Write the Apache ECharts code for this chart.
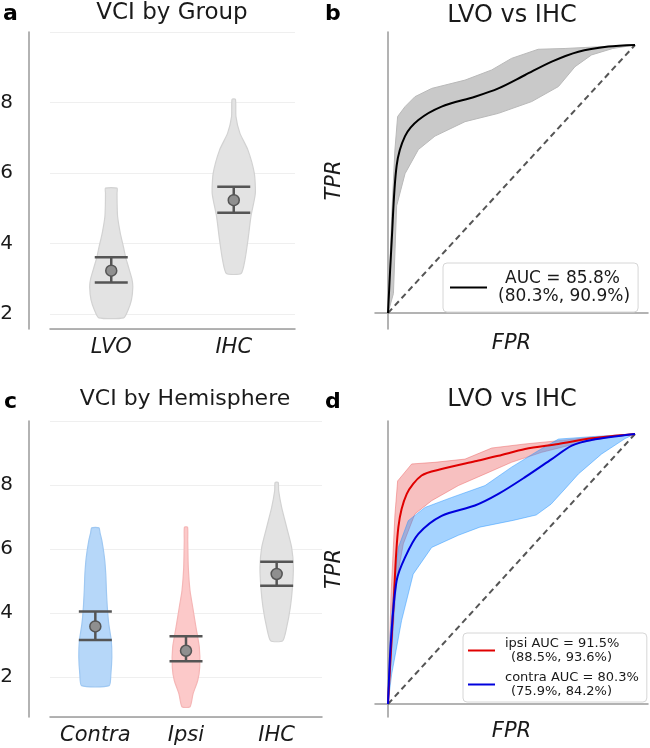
<!DOCTYPE html>
<html><head><meta charset="utf-8">
<script src="https://cdn.jsdelivr.net/npm/echarts@6/dist/echarts.min.js"></script>
<style>html,body{margin:0;padding:0;background:#fff}#c{width:650px;height:748px}</style>
</head><body><div id="c"></div>
<script>
// ---------- data ----------
const catsA = ['LVO', 'IHC'];
const catsC = ['Contra', 'Ipsi', 'IHC'];
const titles = ['VCI by Group', 'LVO vs IHC', 'VCI by Hemisphere', 'LVO vs IHC'];
const letters = ['a', 'b', 'c', 'd'];

// violin profiles: [VCI value, half-width in category units]
const violinA_LVO = [[1.89,0.102],[2.1,0.136],[2.4,0.165],[2.77,0.176],[3.0,0.168],[3.34,0.140],[3.6,0.118],[3.91,0.099],[4.29,0.074],[4.76,0.052],[5.1,0.048],[5.43,0.047],[5.57,0.047]];
const violinA_IHC = [[3.15,0.060],[3.53,0.091],[4.1,0.116],[4.76,0.140],[5.42,0.176],[5.99,0.168],[6.65,0.116],[7.13,0.050],[7.6,0.018],[8.09,0.014]];
const violinC_Contra = [[1.73,0.152],[2.09,0.171],[2.62,0.182],[3.13,0.176],[3.66,0.148],[4.18,0.132],[4.7,0.122],[5.22,0.115],[5.74,0.100],[6.26,0.072],[6.5,0.052],[6.66,0.040]];
const violinC_Ipsi = [[1.07,0.044],[1.47,0.077],[1.89,0.129],[2.3,0.151],[2.93,0.147],[3.55,0.110],[4.18,0.074],[4.7,0.044],[5.43,0.025],[6.26,0.019],[6.68,0.017]];
const violinC_IHC = [[3.13,0.066],[3.55,0.110],[4.18,0.151],[4.8,0.174],[5.43,0.184],[6.05,0.165],[6.68,0.110],[7.3,0.055],[7.82,0.022],[8.08,0.017]];

// mean, lower CI, upper CI
const statsA = [[3.23, 2.89, 3.61], [5.23, 4.87, 5.61]];
const statsC = [[3.58, 3.16, 4.05], [2.82, 2.49, 3.27], [5.22, 4.85, 5.60]];

// ROC curves: [FPR, TPR]
const bMean = [[0,0],[0.015,0.27],[0.035,0.55],[0.069,0.66],[0.123,0.72],[0.217,0.77],[0.352,0.807],[0.447,0.838],[0.555,0.888],[0.663,0.938],[0.771,0.975],[0.892,0.994],[1,1]];
const bUpper = [[0,0],[0.015,0.36],[0.028,0.608],[0.039,0.733],[0.069,0.77],[0.109,0.807],[0.177,0.838],[0.312,0.869],[0.42,0.907],[0.5,0.95],[0.608,0.984],[0.717,0.987],[0.892,0.995],[1,1]];
const bLower = [[0,0],[0.022,0.073],[0.035,0.40],[0.069,0.52],[0.123,0.61],[0.19,0.66],[0.312,0.714],[0.447,0.745],[0.582,0.789],[0.69,0.845],[0.757,0.919],[0.824,0.963],[0.91,0.987],[1,1]];

const ipsiMean = [[0,0],[0.022,0.36],[0.042,0.655],[0.076,0.778],[0.136,0.846],[0.217,0.87],[0.352,0.899],[0.447,0.919],[0.555,0.944],[0.69,0.963],[0.824,0.984],[1,1]];
const ipsiUpper = [[0,0],[0.012,0.4],[0.028,0.7],[0.039,0.826],[0.096,0.889],[0.19,0.895],[0.312,0.907],[0.42,0.948],[0.555,0.963],[0.69,0.975],[0.824,0.988],[1,1]];
const ipsiLower = [[0,0],[0.008,0.111],[0.035,0.457],[0.062,0.593],[0.109,0.704],[0.177,0.753],[0.285,0.809],[0.393,0.852],[0.5,0.895],[0.622,0.932],[0.757,0.963],[0.892,0.988],[1,1]];

const contraMean = [[0,0],[0.012,0.235],[0.035,0.457],[0.069,0.543],[0.123,0.63],[0.217,0.697],[0.352,0.735],[0.447,0.778],[0.555,0.84],[0.663,0.907],[0.744,0.957],[0.824,0.978],[1,1]];
const contraUpper = [[0,0],[0.008,0.25],[0.022,0.42],[0.042,0.58],[0.082,0.679],[0.15,0.728],[0.258,0.765],[0.393,0.809],[0.5,0.877],[0.608,0.938],[0.69,0.981],[0.824,0.99],[1,1]];
const contraLower = [[0,0],[0.015,0.111],[0.055,0.309],[0.102,0.481],[0.177,0.58],[0.285,0.625],[0.372,0.655],[0.507,0.68],[0.6,0.70],[0.66,0.74],[0.72,0.80],[0.771,0.852],[0.865,0.926],[0.96,0.983],[1,1]];
const diagonal = [[0,0],[1,1]];

const legendB = [['AUC = 85.8%', '(80.3%, 90.9%)']];
const legendD = [['ipsi AUC = 91.5%', '(88.5%, 93.6%)'], ['contra AUC = 80.3%', '(75.9%, 84.2%)']];

// ---------- chart ----------
const FONT = 'DejaVu Sans';
const TXT = '#1a1a1a';
const chart = echarts.init(document.getElementById('c'));

function violinSeries(xi, profiles, fills, edges) {
  return {
    type: 'custom', xAxisIndex: xi, yAxisIndex: xi, clip: false, silent: true, z: 2,
    data: profiles.map((p, i) => [i, p[0][0]]),
    renderItem(params, api) {
      const i = params.dataIndex;
      const prof = profiles[i];
      const band = api.size([1, 0])[0];
      const right = prof.map(([v, w]) => { const c = api.coord([i, v]); return [c[0] + w * band, c[1]]; });
      const left = prof.slice().reverse().map(([v, w]) => { const c = api.coord([i, v]); return [c[0] - w * band, c[1]]; });
      return { type: 'polygon', shape: { points: right.concat(left), smooth: 0.2 },
        style: { fill: fills[i], stroke: edges[i], lineWidth: 1.2 } };
    }
  };
}
function errSeries(xi, stats) {
  return {
    type: 'custom', xAxisIndex: xi, yAxisIndex: xi, clip: false, silent: true, z: 5,
    data: stats.map((s, i) => [i, s[0], s[1], s[2]]),
    renderItem(params, api) {
      const i = params.dataIndex;
      const m = api.coord([i, stats[i][0]]), lo = api.coord([i, stats[i][1]]), hi = api.coord([i, stats[i][2]]);
      const cap = 16.5;
      const ls = { stroke: '#555', lineWidth: 2.5 };
      return { type: 'group', children: [
        { type: 'line', shape: { x1: lo[0], y1: lo[1], x2: hi[0], y2: hi[1] }, style: ls },
        { type: 'line', shape: { x1: lo[0] - cap, y1: lo[1], x2: lo[0] + cap, y2: lo[1] }, style: ls },
        { type: 'line', shape: { x1: hi[0] - cap, y1: hi[1], x2: hi[0] + cap, y2: hi[1] }, style: ls },
        { type: 'circle', shape: { cx: m[0], cy: m[1], r: 5.5 }, style: { fill: '#8f8f8f', stroke: '#555', lineWidth: 1.5 } }
      ] };
    }
  };
}
function bandSeries(xi, upper, lower, fill, stroke) {
  return {
    type: 'custom', xAxisIndex: xi, yAxisIndex: xi, clip: false, silent: true, z: 1,
    data: [[0, 0]],
    renderItem(params, api) {
      const pts = upper.map(p => api.coord(p)).concat(lower.slice().reverse().map(p => api.coord(p)));
      return { type: 'polygon', shape: { points: pts }, style: { fill, stroke, lineWidth: 1 } };
    }
  };
}
function lineSeries(name, xi, data, color, width) {
  return { type: 'line', name, xAxisIndex: xi, yAxisIndex: xi, data, showSymbol: false, smooth: 0.3,
    lineStyle: { color, width }, itemStyle: { color }, z: 4, silent: true, animation: false };
}
function diagSeries(xi) {
  return { type: 'line', xAxisIndex: xi, yAxisIndex: xi, data: diagonal, showSymbol: false,
    lineStyle: { color: '#555', width: 2, type: [6, 4] }, z: 3, silent: true };
}

const axisLine = { show: true, lineStyle: { color: '#9a9a9a', width: 1.5 } };
function catX(gi, cats) {
  return { type: 'category', gridIndex: gi, data: cats, axisLine, axisTick: { show: false },
    axisLabel: { interval: 0, fontSize: 21, fontStyle: 'italic', fontFamily: FONT, color: TXT, margin: 8 }, splitLine: { show: false } };
}
function valY(gi, min, max) {
  return { type: 'value', gridIndex: gi, min, max, offset: 21, axisLine, axisTick: { show: false },
    axisLabel: { fontSize: 20, fontFamily: FONT, color: TXT, margin: 16, showMinLabel: false, showMaxLabel: false },
    splitLine: { show: true, lineStyle: { color: '#efefef', width: 1 } } };
}
function rocX(gi) {
  return { type: 'value', gridIndex: gi, min: -0.0526, max: 1.0526, axisLine, axisTick: { show: false },
    axisLabel: { show: false }, splitLine: { show: false },
    name: 'FPR', nameLocation: 'middle', nameGap: 4,
    nameTextStyle: { fontSize: 21, fontStyle: 'italic', fontFamily: FONT, color: TXT, verticalAlign: 'top' } };
}
function rocY(gi, min, max) {
  return { type: 'value', gridIndex: gi, min, max, offset: 20, axisLine, axisTick: { show: false },
    axisLabel: { show: false }, splitLine: { show: false },
    name: 'TPR', nameLocation: 'middle', nameGap: 10, nameRotate: 90,
    nameTextStyle: { fontSize: 21, fontStyle: 'italic', fontFamily: FONT, color: TXT } };
}

function legendText(lines) {
  return '{a|' + lines[0] + '}\n{b|' + lines[1] + '}';
}

const graphic = [
  { type: 'text', x: 172, y: 13, style: { text: titles[0], fontSize: 23, fontFamily: FONT, fill: TXT, align: 'center', verticalAlign: 'middle' } },
  { type: 'text', x: 512, y: 16, style: { text: titles[1], fontSize: 24, fontFamily: FONT, fill: TXT, align: 'center', verticalAlign: 'middle' } },
  { type: 'text', x: 185, y: 399, style: { text: titles[2], fontSize: 22, fontFamily: FONT, fill: TXT, align: 'center', verticalAlign: 'middle' } },
  { type: 'text', x: 512, y: 400, style: { text: titles[3], fontSize: 24, fontFamily: FONT, fill: TXT, align: 'center', verticalAlign: 'middle' } },
  { type: 'text', x: 3, y: 14, style: { text: letters[0], fontSize: 22, fontWeight: 'bold', fontFamily: FONT, fill: '#000', align: 'left', verticalAlign: 'middle' } },
  { type: 'text', x: 325, y: 14, style: { text: letters[1], fontSize: 22, fontWeight: 'bold', fontFamily: FONT, fill: '#000', align: 'left', verticalAlign: 'middle' } },
  { type: 'text', x: 4, y: 402, style: { text: letters[2], fontSize: 22, fontWeight: 'bold', fontFamily: FONT, fill: '#000', align: 'left', verticalAlign: 'middle' } },
  { type: 'text', x: 325, y: 402, style: { text: letters[3], fontSize: 22, fontWeight: 'bold', fontFamily: FONT, fill: '#000', align: 'left', verticalAlign: 'middle' } }
];

const option = {
  animation: false,
  backgroundColor: '#fff',
  textStyle: { fontFamily: FONT },
  grid: [
    { left: 50, top: 32, width: 245, height: 297, outerBoundsMode: 'none' },
    { left: 375, top: 32, width: 273, height: 297, outerBoundsMode: 'none' },
    { left: 50, top: 421, width: 272, height: 296, outerBoundsMode: 'none' },
    { left: 375, top: 421, width: 273, height: 296, outerBoundsMode: 'none' }
  ],
  xAxis: [catX(0, catsA), rocX(1), catX(2, catsC), rocX(3)],
  yAxis: [valY(0, 1.574, 10), rocY(1, -0.0597, 1.0485), valY(2, 0.75, 10), rocY(3, -0.048, 1.048)],
  legend: [
    { data: ['b_auc'], left: 443, top: 263, orient: 'vertical', icon: 'rect', itemWidth: 37, itemHeight: 2,
      padding: [7, 8, 7, 7], backgroundColor: '#fff', borderColor: '#d6d6d6', borderWidth: 1, borderRadius: 4,
      selectedMode: false, formatter: () => legendText(legendB[0]),
      textStyle: { fontSize: 17, fontFamily: FONT, color: TXT,
        rich: { a: { fontSize: 17, lineHeight: 18, padding: [0, 0, 0, 13] }, b: { fontSize: 17, lineHeight: 18, padding: [0, 0, 0, 6] } } } },
    { data: ['d_ipsi', 'd_contra'], left: 463, top: 633, orient: 'vertical', icon: 'rect', itemWidth: 27, itemHeight: 2, itemGap: 7,
      padding: [4, 8, 4, 5], backgroundColor: '#fff', borderColor: '#d6d6d6', borderWidth: 1, borderRadius: 4,
      selectedMode: false, formatter: (n) => legendText(n === 'd_ipsi' ? legendD[0] : legendD[1]),
      textStyle: { fontSize: 13, fontFamily: FONT, color: TXT,
        rich: { a: { fontSize: 13, lineHeight: 14, padding: [0, 0, 0, 5] }, b: { fontSize: 13, lineHeight: 14, padding: [0, 0, 0, 11] } } } }
  ],
  graphic,
  series: [
    violinSeries(0, [violinA_LVO, violinA_IHC], ['#e3e3e3', '#e3e3e3'], ['#d2d2d2', '#d2d2d2']),
    errSeries(0, statsA),
    bandSeries(1, bUpper, bLower, '#c9c9c9', '#b9b9b9'),
    diagSeries(1),
    lineSeries('b_auc', 1, bMean, '#000', 2),
    violinSeries(2, [violinC_Contra, violinC_Ipsi, violinC_IHC], ['#b6d7f9', '#fcc9c9', '#e3e3e3'], ['#9fc8f2', '#f5b6b6', '#d2d2d2']),
    errSeries(2, statsC),
    bandSeries(3, ipsiUpper, ipsiLower, 'rgba(235,90,90,0.38)', 'rgba(235,90,90,0.45)'),
    bandSeries(3, contraUpper, contraLower, 'rgba(30,144,255,0.40)', 'rgba(30,144,255,0.45)'),
    diagSeries(3),
    lineSeries('d_ipsi', 3, ipsiMean, '#e00000', 2),
    lineSeries('d_contra', 3, contraMean, '#0000dd', 2)
  ]
};
chart.setOption(option);
</script>
</body></html>
